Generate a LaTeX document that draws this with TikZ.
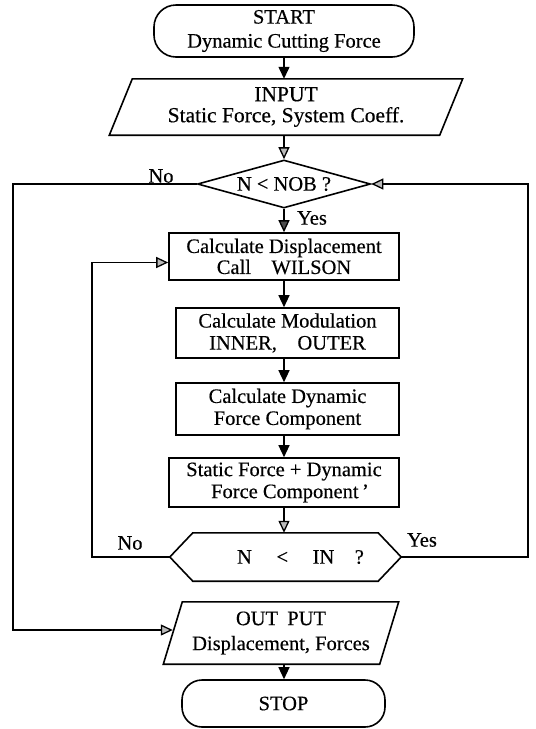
\documentclass[tikz,border=0pt]{standalone}
\usepackage{fontspec}
\setmainfont{Liberation Serif}[FakeBold=0.4]
\usetikzlibrary{arrows.meta,shapes.geometric,calc}
\begin{document}
\begin{tikzpicture}[x=1pt,y=-1pt,
  every node/.style={font=\fontsize{20.5}{22}\selectfont, align=center, inner sep=0pt},
  shp/.style={draw, line width=1.6pt},
  ln/.style={line width=1.3pt},
  blk/.style={ln, -{Triangle[length=12pt,width=11pt]}},
  dgy/.style={ln, -{Triangle[length=12pt,width=11pt,fill=black!70]}},
  gry/.style={ln, -{Triangle[length=12pt,width=11pt,fill=gray!55]}}]
\useasboundingbox (0,0) rectangle (536,729);

% column / routing coordinates
\coordinate (ax) at (284,0);
\coordinate (fb) at (92,0);
\coordinate (rt) at (528,0);
\coordinate (lf) at (13,0);

% nodes
\node[shp, rounded corners=22pt, minimum width=260pt, minimum height=52pt,
      font=\fontsize{20.5}{24}\selectfont] (start) at (284,31) {START\\Dynamic Cutting Force};

\node[minimum width=330pt, minimum height=56pt, font=\fontsize{21.5}{21}\selectfont] (inp) at (286,107)
  {INPUT\\Static Force, System Coeff.};
\draw[shp] ([xshift=11.5pt]inp.north west) -- ([xshift=11.5pt]inp.north east)
  -- ([xshift=-11.5pt]inp.south east) -- ([xshift=-11.5pt]inp.south west) -- cycle;

\node[shp, diamond, aspect=3.5, minimum width=173pt, minimum height=48pt] (dec) at (284,184) {N < NOB ?};

\node[shp, minimum width=230pt, minimum height=47pt, font=\fontsize{20.5}{21}\selectfont] (disp) at (284,256.5)
  {Calculate Displacement\\Call\quad WILSON};
\node[shp, minimum width=223pt, minimum height=50pt] (mod) at (287.5,333)
  {Calculate Modulation\\INNER,\quad OUTER};
\node[shp, minimum width=223pt, minimum height=52pt] (dyn) at (287.5,409)
  {Calculate Dynamic\\Force Component};
\node[shp, minimum width=230pt, minimum height=49pt] (stat) at (284,482.5)
  {Static Force + Dynamic\\\hspace*{12pt}Force Component\,'};

\node[minimum width=185pt, minimum height=48pt] (hex) at (285.5,557)
  {\hspace*{30pt}N\hspace{1.2em}<\hspace{1.2em}IN\hspace{1em}?};
\coordinate (hexL) at ([xshift=-23pt]hex.west);
\coordinate (hexR) at ([xshift=23pt]hex.east);
\draw[shp] (hex.north west) -- (hex.north east) -- (hexR) -- (hex.south east)
  -- (hex.south west) -- (hexL) -- cycle;

\node[minimum width=216pt, minimum height=62pt, font=\fontsize{20.5}{25}\selectfont] (out) at (281,633)
  {OUT\hspace{0.45em}PUT\\Displacement, Forces};
\draw[shp] ([xshift=9.5pt]out.north west) -- ([xshift=9.5pt]out.north east)
  -- ([xshift=-9.5pt]out.south east) -- ([xshift=-9.5pt]out.south west) -- cycle;

\node[shp, rounded corners=20pt, minimum width=203pt, minimum height=47pt] (stop) at (283.5,703.5) {STOP};

% labels
\node (no1) at (161,176) {No};
\node (yes1) at (312,218) {Yes};
\node (no2) at (130,543) {No};
\node (yes2) at (422,540) {Yes};

% connectors
\draw[blk] (start.south -| ax) -- (inp.north -| ax);
\draw[gry] (inp.south -| ax) -- (dec.north);
\draw[dgy] (dec.south) -- (dec.south |- disp.north);
\draw[blk] (disp.south -| ax) -- (mod.north -| ax);
\draw[blk] (mod.south -| ax) -- (dyn.north -| ax);
\draw[blk] (dyn.south -| ax) -- (stat.north -| ax);
\draw[gry] (stat.south -| ax) -- (hex.north -| ax);
\draw[gry] (hexL) -- (hexL -| fb) |- ([yshift=-6pt]disp.west);
\draw[gry] (hexR) -- (hexR -| rt) |- (dec.east);
\draw[gry] (dec.west) -- (dec.west -| lf) |- ([yshift=3pt]out.west);
\draw[blk] (out.south -| ax) -- (stop.north -| ax);
\end{tikzpicture}
\end{document}
